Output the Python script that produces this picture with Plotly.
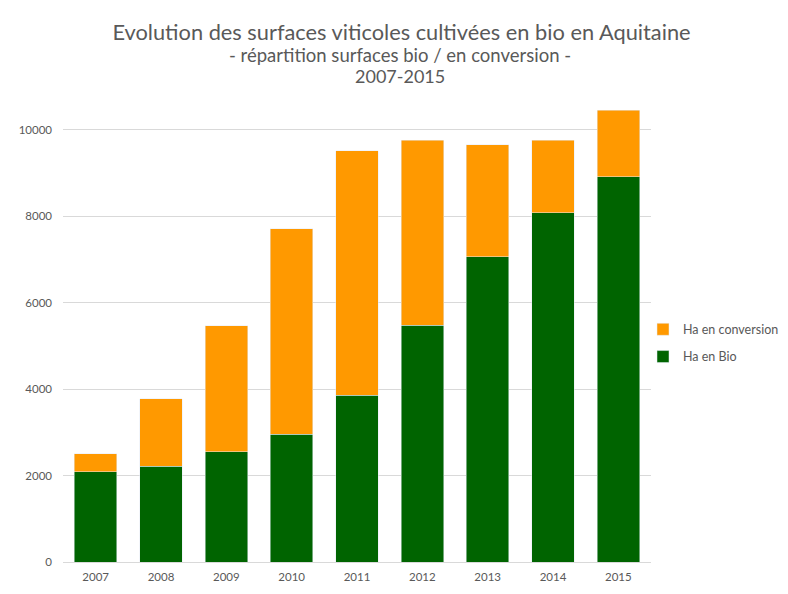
import plotly.graph_objects as go

# Data (hectares)
years = ["2007", "2008", "2009", "2010", "2011", "2012", "2013", "2014", "2015"]
ha_bio = [2090, 2220, 2550, 2960, 3860, 5480, 7060, 8080, 8910]
ha_conversion = [410, 1550, 2910, 4750, 5650, 4280, 2590, 1680, 1540]

GREY = "#595959"
GRID = "#d9d9d9"

# the page body has an 8px margin, so the figure is drawn 8px smaller
W, H = 780, 586

fig = go.Figure()
fig.add_trace(go.Bar(x=years, y=ha_bio, name="Ha en Bio", marker_color="#006400",
                     legendgroup="bio", legendrank=2))
fig.add_trace(go.Bar(x=years, y=ha_conversion, name="Ha en conversion", marker_color="#ff9900",
                     legendgroup="conv", legendrank=1))

fig.update_layout(
    width=W, height=H,
    margin=dict(l=55, r=137, t=100, b=32, autoexpand=False),
    barmode="stack", bargap=0.35,
    plot_bgcolor="white", paper_bgcolor="white",
    font=dict(family="Lato, sans-serif", color=GREY, size=11),
    title=dict(text="Evolution des surfaces viticoles cultivées en bio en Aquitaine",
               x=0.5045, xanchor="center", y=1 - 24 / H, yanchor="middle",
               font=dict(size=21.8, color=GREY)),
    legend=dict(traceorder="grouped", x=(643 - 8) / W, xref="container", xanchor="left",
                y=0.482, yanchor="middle",
                font=dict(size=12.5, color=GREY), itemwidth=30, tracegroupgap=8),
    showlegend=True,
)

fig.update_xaxes(showgrid=False, showline=False, ticks="", ticklabelstandoff=6,
                 tickfont=dict(size=11.5, color=GREY))
fig.update_yaxes(range=[0, 10500], dtick=2000, tickformat="d", showgrid=True, gridcolor=GRID,
                 gridwidth=1, zeroline=True, zerolinecolor=GRID, zerolinewidth=1,
                 showline=False, ticks="", ticklabelstandoff=10,
                 tickfont=dict(size=11.5, color=GREY))

# subtitle lines
fig.add_annotation(text="- répartition surfaces bio / en conversion -", xref="paper", yref="paper",
                   x=0.573, y=(562 - 55) / 454, xanchor="center", yanchor="middle",
                   showarrow=False, font=dict(size=18.5, color=GREY))
fig.add_annotation(text="2007-2015", xref="paper", yref="paper",
                   x=0.573, y=(562 - 76) / 454, xanchor="center", yanchor="middle",
                   showarrow=False, font=dict(size=18, color=GREY))

# light chart frame
fig.add_shape(type="rect", xref="paper", yref="paper",
              x0=-56 / 588, x1=800 / 588, y0=-60 / 454, y1=(562 - 7) / 454,
              line=dict(color=GRID, width=2), fillcolor="rgba(0,0,0,0)", layer="below")

fig.write_html("out.html")
